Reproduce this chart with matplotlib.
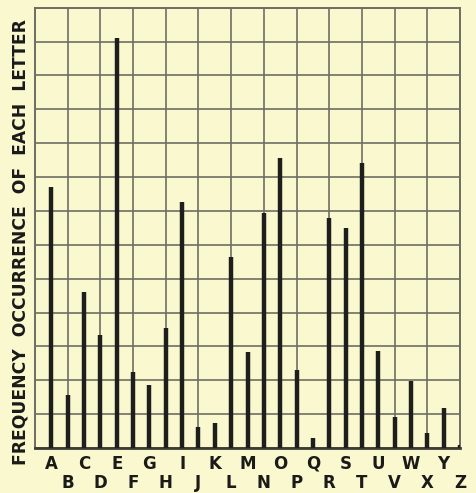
import numpy as np
import matplotlib.pyplot as plt

# letter frequency chart, values in grid units (13 rows)
letters = list("ABCDEFGHIJKLMNOPQRSTUVWXYZ")
freq = [7.71, 1.57, 4.60, 3.34, 12.11, 2.25, 1.86, 3.54, 7.27, 0.62,
        0.74, 5.64, 2.84, 6.94, 8.57, 2.30, 0.30, 6.79, 6.50, 8.42,
        2.87, 0.92, 1.98, 0.44, 1.18, 0.10]

bg = "#faf8cf"
grid_col = "#6e6e64"
bar_col = "#1e1f1c"

fig = plt.figure(figsize=(4.77, 4.93), dpi=100, facecolor=bg)
ax = fig.add_axes([0.0734, 0.0913, 0.891, 0.893])
ax.set_facecolor(bg)

x = np.arange(1, len(letters) + 1)
ax.vlines(x, 0, freq, color=bar_col, linewidth=3.2, zorder=3)

ax.set_xlim(0, 26)
ax.set_ylim(0, 13)
ax.set_xticks(range(0, 27, 2))
ax.set_yticks(range(0, 14))
ax.tick_params(length=0, labelbottom=False, labelleft=False)
ax.grid(True, color=grid_col, linewidth=1.2, zorder=1)
for side in ["left", "right", "top"]:
    ax.spines[side].set_color(grid_col)
    ax.spines[side].set_linewidth(1.4)
ax.spines["bottom"].set_color("#3c3c36")
ax.spines["bottom"].set_linewidth(2.0)

# staggered letter labels under each bar
trans = ax.get_xaxis_transform()
for i, (xi, lbl) in enumerate(zip(x, letters)):
    y = -0.036 if i % 2 == 0 else -0.080
    ax.text(xi, y, lbl, transform=trans, ha="center", va="center",
            fontsize=12, fontweight="bold", color="#1a1a18")

fig.text(0.042, 0.51, "FREQUENCY  OCCURRENCE  OF  EACH  LETTER",
         rotation=90, ha="center", va="center", fontsize=12.3,
         fontweight="bold", color="#1a1a18")

plt.savefig("out.png", dpi=100, facecolor=bg)
plt.close()
